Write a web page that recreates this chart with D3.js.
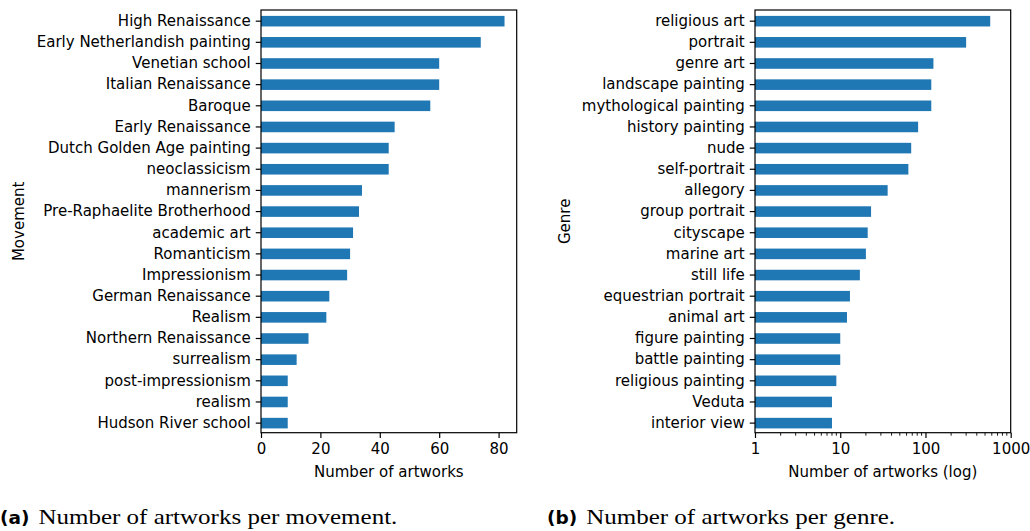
<!DOCTYPE html>
<html>
<head>
<meta charset="utf-8">
<script src="https://cdn.jsdelivr.net/npm/d3@7"></script>
<style>
  html, body { margin: 0; padding: 0; background: #fff; }
  svg { display: block; }
  .tick text { font-family: "DejaVu Sans", sans-serif; font-size: 15px; fill: #000; }
  .lbl { font-family: "DejaVu Sans", sans-serif; font-size: 15px; fill: #000; }
  .cap-b { font-family: "DejaVu Sans", sans-serif; font-weight: bold; font-size: 18.5px; fill: #000; }
  .cap { font-family: "Liberation Serif", serif; font-size: 20.5px; fill: #000; }
</style>
</head>
<body>
<svg id="fig" width="1030" height="531"></svg>
<script>
// Artworks per art movement (top 20)
const movements = [
  "High Renaissance", "Early Netherlandish painting", "Venetian school",
  "Italian Renaissance", "Baroque", "Early Renaissance", "Dutch Golden Age painting",
  "neoclassicism", "mannerism", "Pre-Raphaelite Brotherhood", "academic art",
  "Romanticism", "Impressionism", "German Renaissance", "Realism",
  "Northern Renaissance", "surrealism", "post-impressionism", "realism",
  "Hudson River school"
];
const movementCounts = [82, 74, 60, 60, 57, 45, 43, 43, 34, 33, 31, 30, 29, 23, 22, 16, 12, 9, 9, 9];
const movementTicks = [0, 20, 40, 60, 80];

// Artworks per genre (top 20), shown on a log axis
const genres = [
  "religious art", "portrait", "genre art", "landscape painting",
  "mythological painting", "history painting", "nude", "self-portrait",
  "allegory", "group portrait", "cityscape", "marine art", "still life",
  "equestrian portrait", "animal art", "figure painting", "battle painting",
  "religious painting", "Veduta", "interior view"
];
const genreCounts = [575, 300, 124, 117, 117, 82, 68, 63, 36, 23, 21, 20, 17, 13, 12, 10, 10, 9, 8, 8];
const genreTicks = [1, 10, 100, 1000];

const BAR = "#1f77b4";
const TICK = 5.25;     // major tick length
const MINOR = 3;       // minor tick length
const LINE_W = 1.2;
const svg = d3.select("#fig");

function drawPanel(opts) {
  const { left, right, top, bottom, cats, vals, x, ticks, tickFmt, minor, yTitle, yTitleX, xTitle, base } = opts;
  const g = svg.append("g");

  const y = d3.scaleBand().domain(cats).range([top + 0.6, bottom + 1.0])
    .paddingInner(0.5).paddingOuter(0.25);

  g.selectAll("rect.bar").data(cats).join("rect")
    .attr("class", "bar")
    .attr("x", x(base))
    .attr("y", d => y(d))
    .attr("width", (d, i) => x(vals[i]) - x(base))
    .attr("height", y.bandwidth())
    .attr("fill", BAR);

  // minor ticks for the log axis
  if (minor) {
    g.append("g").selectAll("line").data(minor).join("line")
      .attr("x1", d => x(d)).attr("x2", d => x(d))
      .attr("y1", bottom).attr("y2", bottom + MINOR)
      .attr("stroke", "#000").attr("stroke-width", 0.9);
  }

  const xAxis = g.append("g").attr("transform", `translate(0,${bottom})`)
    .call(d3.axisBottom(x).tickValues(ticks).tickFormat(tickFmt)
      .tickSizeInner(TICK).tickSizeOuter(0).tickPadding(5));
  xAxis.select(".domain").remove();
  xAxis.selectAll(".tick line").attr("stroke-width", LINE_W);

  const yAxis = g.append("g").attr("transform", `translate(${left},0)`)
    .call(d3.axisLeft(y).tickSizeInner(TICK).tickSizeOuter(0).tickPadding(5));
  yAxis.select(".domain").remove();
  yAxis.selectAll(".tick line").attr("stroke-width", LINE_W);

  // frame
  g.append("rect")
    .attr("x", left).attr("y", top)
    .attr("width", right - left).attr("height", bottom - top)
    .attr("fill", "none").attr("stroke", "#000").attr("stroke-width", LINE_W);

  g.append("text").attr("class", "lbl")
    .attr("x", (left + right) / 2).attr("y", bottom + 44)
    .attr("text-anchor", "middle").text(xTitle);

  g.append("text").attr("class", "lbl")
    .attr("transform", `translate(${yTitleX},${(top + bottom) / 2}) rotate(-90)`)
    .attr("text-anchor", "middle").text(yTitle);
}

// (a) movements, linear axis with 5% headroom
const xa = d3.scaleLinear().domain([0, d3.max(movementCounts) * 1.05]).range([261, 516.7]);
drawPanel({
  left: 261, right: 516.7, top: 10, bottom: 432.7,
  cats: movements, vals: movementCounts, x: xa, base: 0,
  ticks: movementTicks, tickFmt: d3.format("d"),
  yTitle: "Movement", yTitleX: 23.5, xTitle: "Number of artworks"
});

// (b) genres, log axis
const xb = d3.scaleLog().domain([1, 1000]).range([755, 1010.7]);
const minorTicks = [];
[1, 10, 100].forEach(dec => { for (let k = 2; k <= 9; k++) minorTicks.push(dec * k); });
drawPanel({
  left: 755, right: 1010.7, top: 10, bottom: 432.7,
  cats: genres, vals: genreCounts, x: xb, base: 1,
  ticks: genreTicks, tickFmt: d3.format("d"), minor: minorTicks,
  yTitle: "Genre", yTitleX: 570, xTitle: "Number of artworks (log)"
});

// sub-figure captions: bold sans tag followed by a wide serif line
const CAP_STRETCH = 1.22;
const caps = [
  { x: 0, tag: "(a)", text: "Number of artworks per movement." },
  { x: 547, tag: "(b)", text: "Number of artworks per genre." }
];
caps.forEach(c => {
  const t = svg.append("text").attr("class", "cap-b").attr("x", c.x).attr("y", 524).text(c.tag);
  const w = t.node().getComputedTextLength();
  svg.append("text").attr("class", "cap")
    .attr("transform", `translate(${c.x + w + 9},524) scale(${CAP_STRETCH},1)`)
    .text(c.text);
});
</script>
</body>
</html>
